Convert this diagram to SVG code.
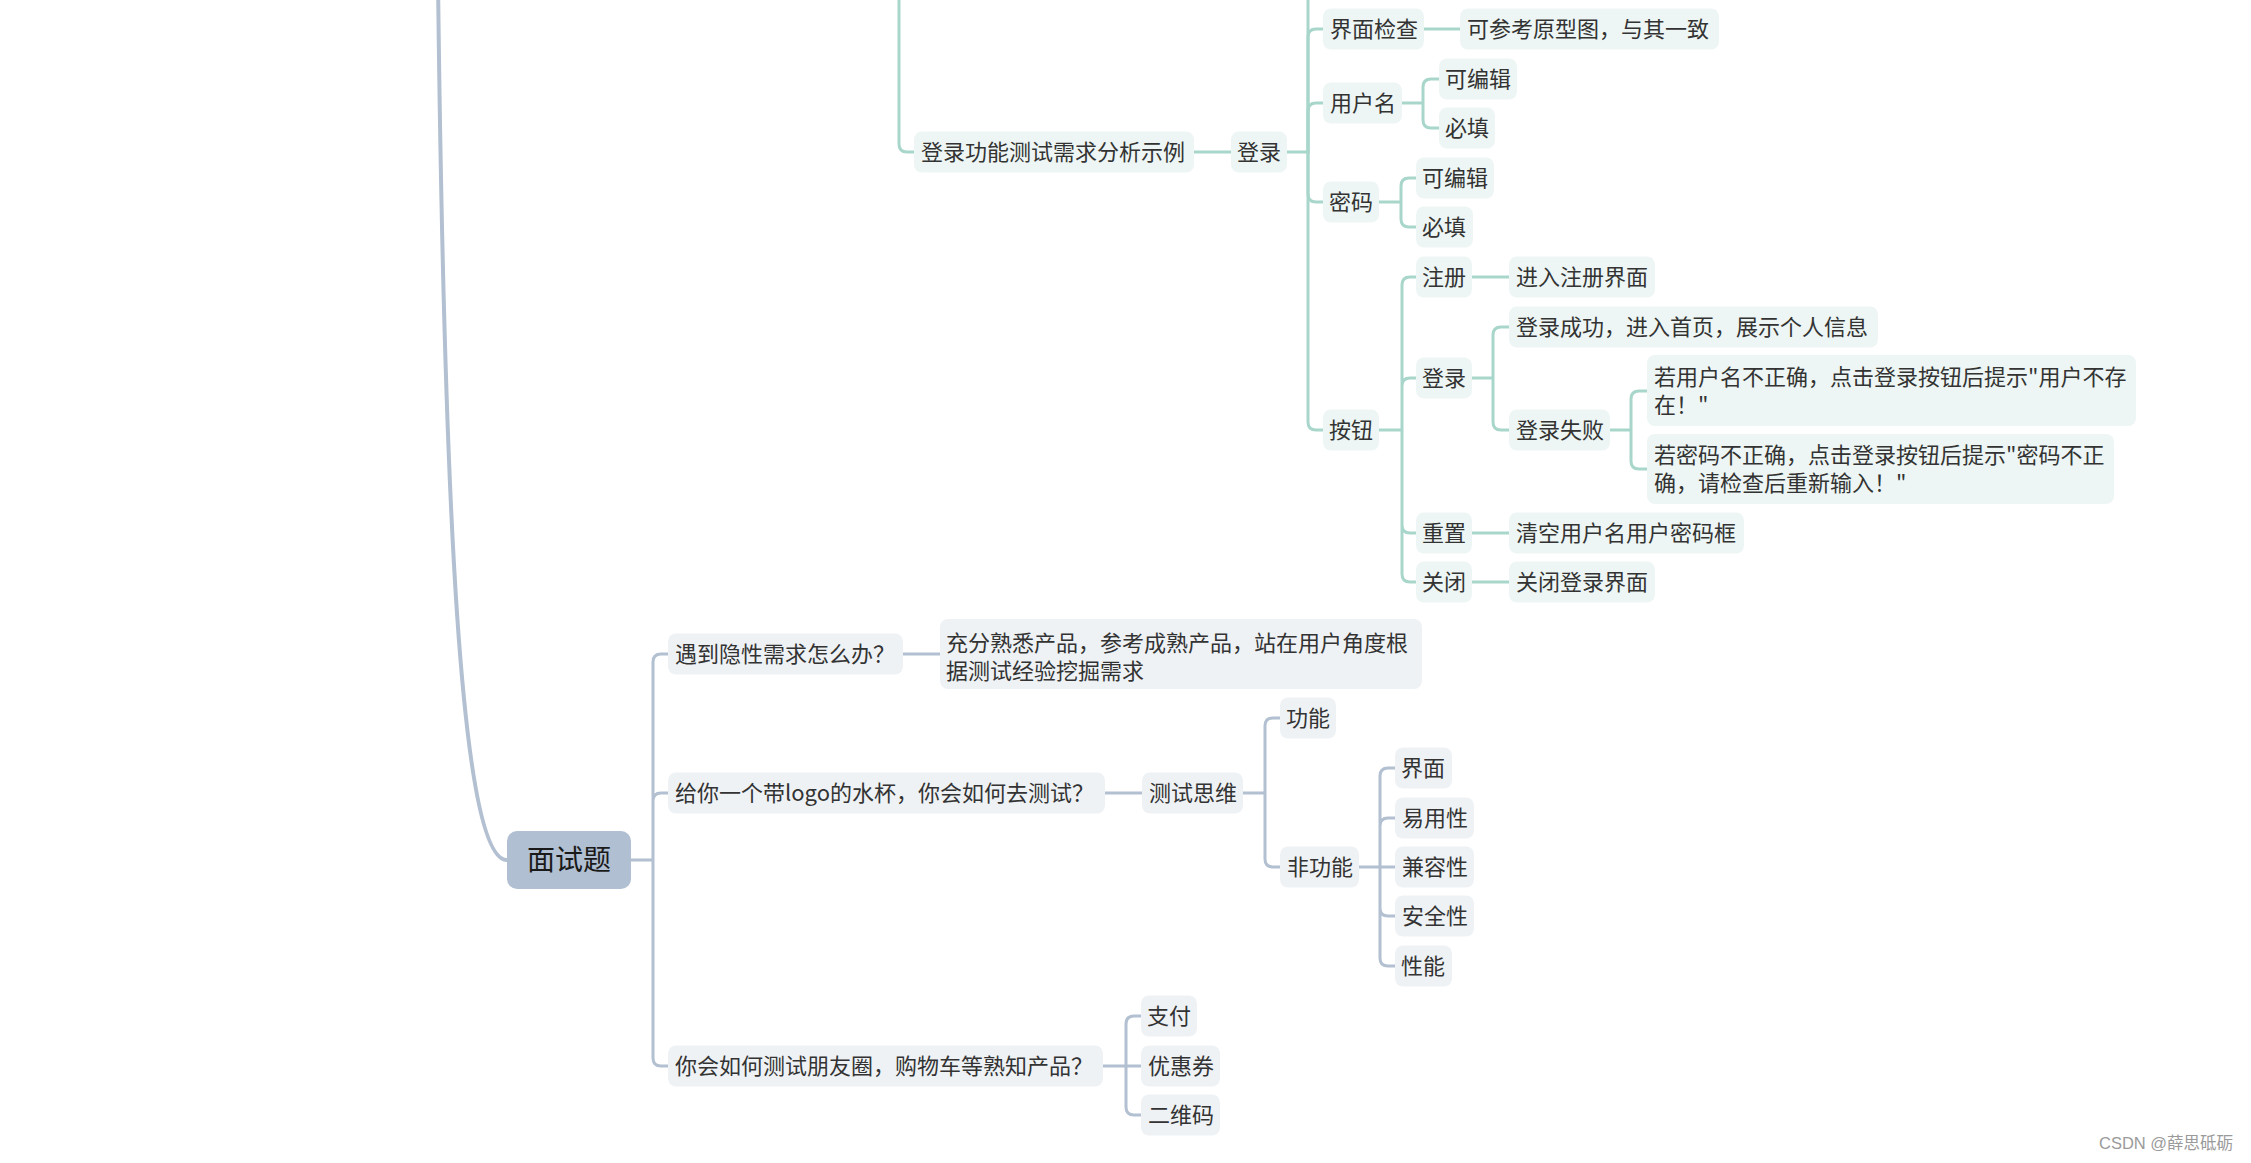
<svg xmlns="http://www.w3.org/2000/svg" width="2251" height="1163" viewBox="0 0 2251 1163">
<style>
.t{fill:#edf6f4}
.g{fill:#eff2f5}
.r{fill:#b0bfd1}
text{font-family:"Noto Sans CJK SC","Microsoft YaHei",sans-serif;font-size:22px;fill:#333}
.rt{font-size:28px;fill:#1a1a1a}
.tc{fill:none;stroke:#a8d6cb;stroke-width:3;stroke-linecap:round}
.gc{fill:none;stroke:#b2c0d1;stroke-width:3;stroke-linecap:round}
.wm{font-family:"Liberation Sans","Noto Sans CJK SC",sans-serif;font-size:16.5px;fill:#9a9a9a}
</style>
<rect width="2251" height="1163" fill="#ffffff"/>
<g id="connectors">
<path class="tc" d="M899,-10 V144 Q899,152 907,152 H914"/>
<path class="tc" d="M1194,152 H1231"/>
<path class="tc" d="M1287,152 H1308 M1308,152 V-10"/>
<path class="tc" d="M1308,152 V37 Q1308,29 1316,29 H1323"/>
<path class="tc" d="M1308,152 V111 Q1308,103 1316,103 H1323"/>
<path class="tc" d="M1308,152 V194 Q1308,202 1316,202 H1323"/>
<path class="tc" d="M1308,152 V422 Q1308,430 1316,430 H1323"/>
<path class="tc" d="M1424,29 H1460"/>
<path class="tc" d="M1402,103 H1423 M1423,103 V87 Q1423,79 1431,79 H1439 M1423,103 V120 Q1423,128 1431,128 H1439"/>
<path class="tc" d="M1379,202 H1401 M1401,202 V186 Q1401,178 1409,178 H1416 M1401,202 V219 Q1401,227 1409,227 H1416"/>
<path class="tc" d="M1379,430 H1402 M1402,430 V285 Q1402,277 1410,277 H1416 M1402,430 V386 Q1402,378 1410,378 H1416 M1402,430 V525 Q1402,533 1410,533 H1416 M1402,430 V574 Q1402,582 1410,582 H1416"/>
<path class="tc" d="M1472,277 H1509"/>
<path class="tc" d="M1472,378 H1493 M1493,378 V335 Q1493,327 1501,327 H1509 M1493,378 V422 Q1493,430 1501,430 H1509"/>
<path class="tc" d="M1610,430 H1631 M1631,430 V399 Q1631,391 1639,391 H1647 M1631,430 V461 Q1631,469 1639,469 H1647"/>
<path class="tc" d="M1472,533 H1509"/>
<path class="tc" d="M1472,582 H1509"/>
<path class="gc" style="stroke-width:4" d="M438,-20 C444,500 460,860 507,860"/>
<path class="gc" d="M631,860 H653 M653,860 V662 Q653,654 661,654 H668 M653,860 V801 Q653,793 661,793 H668 M653,860 V1058 Q653,1066 661,1066 H668"/>
<path class="gc" d="M903,654 H940"/>
<path class="gc" d="M1105,793 H1142"/>
<path class="gc" d="M1243,793 H1265 M1265,793 V726 Q1265,718 1273,718 H1280 M1265,793 V859 Q1265,867 1273,867 H1280"/>
<path class="gc" d="M1359,867 H1395 M1380,867 V776 Q1380,768 1388,768 H1395 M1380,867 V826 Q1380,818 1388,818 H1395 M1380,867 V908 Q1380,916 1388,916 H1395 M1380,867 V958 Q1380,966 1388,966 H1395"/>
<path class="gc" d="M1103,1066 H1141 M1126,1066 V1024 Q1126,1016 1134,1016 H1141 M1126,1066 V1107 Q1126,1115 1134,1115 H1141"/>
</g>
<g id="n-login-example"><rect class="t" x="914" y="131.5" width="280" height="41" rx="8"/><text x="921" y="160">登录功能测试需求分析示例</text></g>
<g id="n-login"><rect class="t" x="1231" y="131.5" width="56" height="41" rx="8"/><text x="1237" y="160">登录</text></g>
<g id="n-ui-check"><rect class="t" x="1323" y="8.5" width="101" height="41" rx="8"/><text x="1330" y="37">界面检查</text></g>
<g id="n-ui-ref"><rect class="t" x="1460" y="8.5" width="259" height="41" rx="8"/><text x="1467" y="37">可参考原型图，与其一致</text></g>
<g id="n-username"><rect class="t" x="1323" y="82.5" width="79" height="41" rx="8"/><text x="1330" y="111">用户名</text></g>
<g id="n-user-edit"><rect class="t" x="1439" y="58.5" width="78" height="41" rx="8"/><text x="1445" y="87">可编辑</text></g>
<g id="n-user-req"><rect class="t" x="1439" y="107.5" width="56" height="41" rx="8"/><text x="1445" y="136">必填</text></g>
<g id="n-password"><rect class="t" x="1323" y="181.5" width="56" height="41" rx="8"/><text x="1329" y="210">密码</text></g>
<g id="n-pwd-edit"><rect class="t" x="1416" y="157.5" width="78" height="41" rx="8"/><text x="1422" y="186">可编辑</text></g>
<g id="n-pwd-req"><rect class="t" x="1416" y="206.5" width="57" height="41" rx="8"/><text x="1422" y="235">必填</text></g>
<g id="n-button"><rect class="t" x="1323" y="409.5" width="56" height="41" rx="8"/><text x="1329" y="438">按钮</text></g>
<g id="n-register"><rect class="t" x="1416" y="256.5" width="56" height="41" rx="8"/><text x="1422" y="285">注册</text></g>
<g id="n-register-go"><rect class="t" x="1509" y="256.5" width="146" height="41" rx="8"/><text x="1516" y="285">进入注册界面</text></g>
<g id="n-btn-login"><rect class="t" x="1416" y="357.5" width="56" height="41" rx="8"/><text x="1422" y="386">登录</text></g>
<g id="n-login-ok"><rect class="t" x="1509" y="306.5" width="369" height="41" rx="8"/><text x="1516" y="335">登录成功，进入首页，展示个人信息</text></g>
<g id="n-login-fail"><rect class="t" x="1509" y="409.5" width="101" height="41" rx="8"/><text x="1516" y="438">登录失败</text></g>
<g id="n-fail-user"><rect class="t" x="1647" y="355" width="489" height="71" rx="8"/><text x="1654" y="385">若用户名不正确，点击登录按钮后提示"用户不存</text><text x="1654" y="413">在！"</text></g>
<g id="n-fail-pwd"><rect class="t" x="1647" y="434" width="467" height="70" rx="8"/><text x="1654" y="463">若密码不正确，点击登录按钮后提示"密码不正</text><text x="1654" y="491">确，请检查后重新输入！"</text></g>
<g id="n-reset"><rect class="t" x="1416" y="512.5" width="56" height="41" rx="8"/><text x="1422" y="541">重置</text></g>
<g id="n-reset-do"><rect class="t" x="1509" y="512.5" width="235" height="41" rx="8"/><text x="1516" y="541">清空用户名用户密码框</text></g>
<g id="n-close"><rect class="t" x="1416" y="561.5" width="56" height="41" rx="8"/><text x="1422" y="590">关闭</text></g>
<g id="n-close-do"><rect class="t" x="1509" y="561.5" width="146" height="41" rx="8"/><text x="1516" y="590">关闭登录界面</text></g>
<g id="n-root"><rect class="r" x="507" y="831" width="124" height="58" rx="10"/><text class="rt" x="527" y="870">面试题</text></g>
<g id="n-q1"><rect class="g" x="668" y="633.5" width="235" height="41" rx="8"/><text x="675" y="662">遇到隐性需求怎么办？</text></g>
<g id="n-a1"><rect class="g" x="940" y="619" width="482" height="70" rx="8"/><text x="946" y="651">充分熟悉产品，参考成熟产品，站在用户角度根</text><text x="946" y="679">据测试经验挖掘需求</text></g>
<g id="n-q2"><rect class="g" x="668" y="772.5" width="437" height="41" rx="8"/><text x="675" y="801">给你一个带logo的水杯，你会如何去测试？</text></g>
<g id="n-think"><rect class="g" x="1142" y="772.5" width="101" height="41" rx="8"/><text x="1149" y="801">测试思维</text></g>
<g id="n-func"><rect class="g" x="1280" y="697.5" width="56" height="41" rx="8"/><text x="1286" y="726">功能</text></g>
<g id="n-nonfunc"><rect class="g" x="1280" y="846.5" width="79" height="41" rx="8"/><text x="1287" y="875">非功能</text></g>
<g id="n-ui"><rect class="g" x="1395" y="747.5" width="57" height="41" rx="8"/><text x="1401" y="776">界面</text></g>
<g id="n-usability"><rect class="g" x="1395" y="797.5" width="79" height="41" rx="8"/><text x="1402" y="826">易用性</text></g>
<g id="n-compat"><rect class="g" x="1395" y="846.5" width="79" height="41" rx="8"/><text x="1402" y="875">兼容性</text></g>
<g id="n-security"><rect class="g" x="1395" y="895.5" width="79" height="41" rx="8"/><text x="1402" y="924">安全性</text></g>
<g id="n-perf"><rect class="g" x="1395" y="945.5" width="57" height="41" rx="8"/><text x="1401" y="974">性能</text></g>
<g id="n-q3"><rect class="g" x="668" y="1045.5" width="435" height="41" rx="8"/><text x="675" y="1074">你会如何测试朋友圈，购物车等熟知产品？</text></g>
<g id="n-pay"><rect class="g" x="1141" y="995.5" width="56" height="41" rx="8"/><text x="1147" y="1024">支付</text></g>
<g id="n-coupon"><rect class="g" x="1141" y="1045.5" width="79" height="41" rx="8"/><text x="1148" y="1074">优惠券</text></g>
<g id="n-qrcode"><rect class="g" x="1141" y="1094.5" width="79" height="41" rx="8"/><text x="1148" y="1123">二维码</text></g>
<text class="wm" x="2099" y="1149">CSDN @薛思砥砺</text>
</svg>
